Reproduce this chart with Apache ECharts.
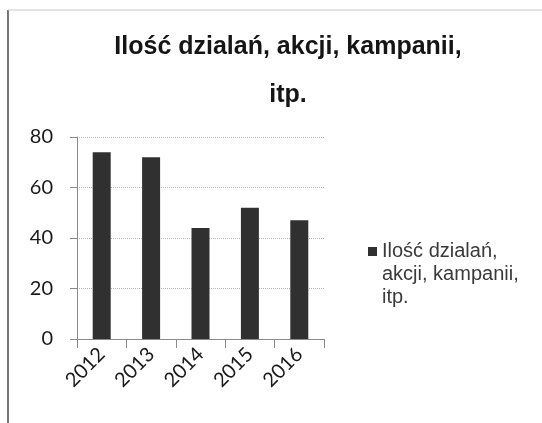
<!DOCTYPE html>
<html lang="pl">
<head>
<meta charset="UTF-8">
<title>Ilość dzialań</title>
<script src="https://cdn.jsdelivr.net/npm/echarts@6/dist/echarts.min.js"></script>
</head>
<body style="margin:0;background:#fff;">
<div id="main" style="width:542px;height:423px;"></div>
<script>
// dane
var lata = ['2012', '2013', '2014', '2015', '2016'];
var wartosci = [74, 72, 44, 52, 47];
var nazwaSerii = 'Ilość dzialań, akcji, kampanii, itp.';
var osY = [0, 20, 40, 60, 80];

var myChart = echarts.init(document.getElementById('main'));

var option = {
    backgroundColor: '#fff',
    animation: false,
    title: {
        text: 'Ilość dzialań, akcji, kampanii,\nitp.',
        left: 283,
        top: 18,
        textAlign: 'center',
        textStyle: {
            fontFamily: 'Liberation Sans',
            fontWeight: 'bold',
            fontSize: 25,
            lineHeight: 48,
            color: '#151515'
        }
    },
    legend: {
        data: [nazwaSerii],
        left: 363,
        top: 189,
        icon: 'rect',
        itemWidth: 9,
        itemHeight: 9,
        itemGap: 4,
        formatter: function () {
            // ikona przy pierwszej linii
            return '\n\nIlość dzialań,\nakcji, kampanii,\nitp.';
        },
        textStyle: {
            fontFamily: 'Liberation Sans',
            fontSize: 20,
            lineHeight: 23,
            color: '#3a3a3a'
        }
    },
    grid: {
        left: 77,
        right: 218,
        top: 137,
        bottom: 84
    },
    xAxis: {
        type: 'category',
        data: lata,
        axisLine: {lineStyle: {color: '#8a8a8a', width: 1}},
        axisTick: {show: true, length: 9, lineStyle: {color: '#8a8a8a'}},
        axisLabel: {
            rotate: 45,
            margin: 12,
            fontFamily: 'Lato',
            fontSize: 20,
            color: '#1a1a1a'
        }
    },
    yAxis: {
        type: 'value',
        min: osY[0],
        max: osY[osY.length - 1],
        interval: 20,
        axisLine: {show: true, lineStyle: {color: '#8a8a8a', width: 1}},
        axisTick: {show: true, length: 7, lineStyle: {color: '#8a8a8a'}},
        axisLabel: {
            margin: 24,
            fontFamily: 'Lato',
            fontSize: 20,
            color: '#1a1a1a'
        },
        splitLine: {lineStyle: {color: '#b5b5b5', type: 'dotted'}}
    },
    series: [
        {
            name: nazwaSerii,
            type: 'bar',
            data: wartosci,
            barWidth: 18,
            itemStyle: {color: '#303030'}
        }
    ],
    graphic: [
        {type: 'line', shape: {x1: 8, y1: 10, x2: 8, y2: 423}, style: {stroke: '#777', lineWidth: 2}},
        {type: 'line', shape: {x1: 8, y1: 10, x2: 542, y2: 10}, style: {stroke: '#c8c8c8', lineWidth: 1}}
    ]
};

myChart.setOption(option);
</script>
</body>
</html>
